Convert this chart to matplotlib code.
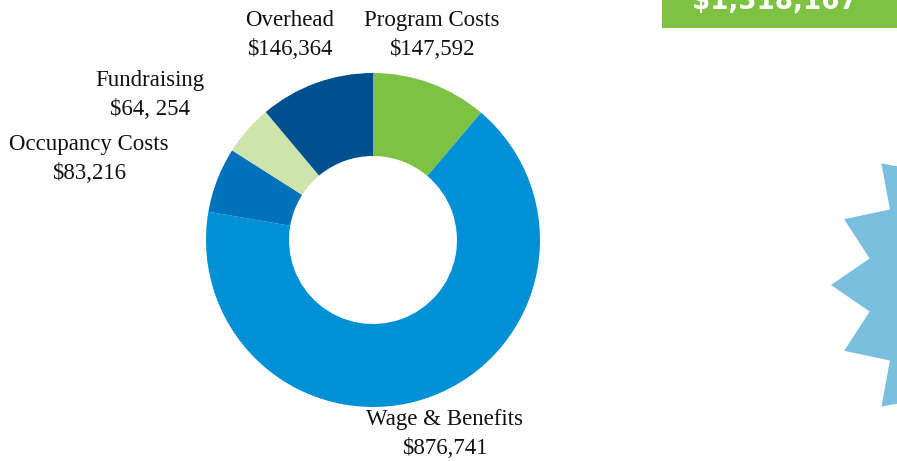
import numpy as np
import matplotlib.pyplot as plt
from matplotlib.patches import Rectangle, Polygon

# slices, clockwise from 12 o'clock
labels = ["Program Costs", "Wage & Benefits", "Occupancy Costs", "Fundraising", "Overhead"]
amounts = [147592, 876741, 83216, 64254, 146364]
amount_txt = ["$147,592", "$876,741", "$83,216", "$64, 254", "$146,364"]
colors = ["#7dc242", "#0090d5", "#0072bc", "#cde5aa", "#005090"]
total_txt = "$1,318,167"

W, H = 897, 461
fig = plt.figure(figsize=(W / 100, H / 100), dpi=100)
ax = fig.add_axes([0, 0, 1, 1])
ax.set_xlim(0, W)
ax.set_ylim(0, H)
ax.set_aspect("equal")
ax.axis("off")

# donut (pixel coords, y measured from bottom)
cx, cy = 373, H - 240
r_out, r_in = 167, 84
ax.pie(amounts, colors=colors, startangle=90, counterclock=False,
       center=(cx, cy), radius=r_out,
       wedgeprops=dict(width=r_out - r_in, linewidth=0))
ax.set_xlim(0, W)
ax.set_ylim(0, H)

# labels
label_pos = {
    "Program Costs": (432, 35),
    "Wage & Benefits": (445, 434),
    "Occupancy Costs": (89, 159),
    "Fundraising": (150, 95),
    "Overhead": (290, 35),
}
for name, amt in zip(labels, amount_txt):
    x, y = label_pos[name]
    ax.text(x, H - y, name + "\n" + amt, ha="center", va="center",
            fontsize=16.5, family="Liberation Serif", linespacing=1.5,
            color="#111111")

# green total box, cut off at the top
box = Rectangle((662, H - 28), 260, 40, facecolor="#7dc242", edgecolor="none")
ax.add_patch(box)
t = ax.text(775, H - 15, total_txt, ha="center", va="bottom", color="white",
            fontsize=21, fontweight="bold", family="DejaVu Sans",
            fontstretch="condensed")
t.set_clip_path(box)

# decorative star at the right edge
n_tips = 16
sx, sy = 1003, H - 285
ang = np.deg2rad(180 + np.arange(2 * n_tips) * 180 / n_tips)
rad = np.where(np.arange(2 * n_tips) % 2 == 0, 172, 136)
pts = np.column_stack([sx + rad * np.cos(ang), sy + rad * np.sin(ang)])
ax.add_patch(Polygon(pts, closed=True, facecolor="#7bbfdf", edgecolor="none"))

fig.savefig("out.png", dpi=100)
